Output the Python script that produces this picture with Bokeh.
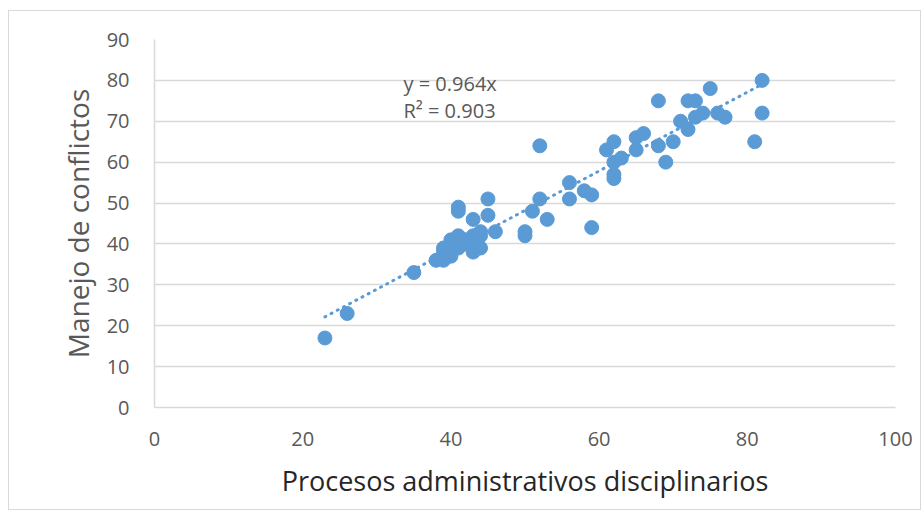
from bokeh.plotting import figure
from bokeh.models import Range1d, SingleIntervalTicker, Label, ColumnDataSource
from bokeh.embed import file_html
from bokeh.resources import INLINE

# ---- data ----
proc_x = [23, 26, 35, 38, 39,
          39, 39, 40, 40, 40, 40, 40, 41, 41, 41, 42, 42, 43, 43, 43, 44, 44, 44, 41,
          41, 41, 43, 45, 45, 46,
          50, 50, 51, 52, 52, 53,
          56, 56, 58, 59, 59,
          61, 62, 62, 62, 62, 63,
          65, 66, 65, 68, 68, 69, 70,
          71, 72, 73, 72, 73, 74, 75, 76, 77,
          81, 82, 82]
conf_y = [17, 23, 33, 36, 36,
          39, 38, 37, 38, 39, 40, 41, 40, 41, 42, 40, 41, 41, 42, 38, 39, 42, 43, 39,
          49, 48, 46, 51, 47, 43,
          43, 42, 48, 51, 64, 46,
          55, 51, 53, 52, 44,
          63, 65, 60, 57, 56, 61,
          66, 67, 63, 64, 75, 60, 65,
          70, 75, 75, 68, 71, 72, 78, 72, 71,
          65, 80, 72]
trend_slope = 0.964
r_squared = 0.903
x_ticks_interval = 20
y_ticks_interval = 10

x_title = "Procesos administrativos disciplinarios"
y_title = "Manejo de conflictos"

BLUE = "#5B9BD5"
GRID = "#D9D9D9"
TXT = "#595959"
FONT = "Open Sans"

p = figure(width=913, height=500, output_backend="svg", toolbar_location=None,
           x_range=Range1d(0, 100), y_range=Range1d(0, 90),
           min_border_left=145, min_border_right=27, min_border_top=28, min_border_bottom=104)
p.styles = {"border": "1px solid #D9D9D9", "margin-left": "8px", "margin-top": "10px"}
p.outline_line_color = None
p.background_fill_color = "white"

p.xgrid.grid_line_color = None
p.ygrid.grid_line_color = GRID
p.ygrid.grid_line_width = 1.5

p.xaxis.ticker = SingleIntervalTicker(interval=x_ticks_interval)
p.yaxis.ticker = SingleIntervalTicker(interval=y_ticks_interval)
for ax in (p.xaxis, p.yaxis):
    ax.major_tick_line_color = None
    ax.minor_tick_line_color = None
    ax.axis_line_color = GRID
    ax.axis_line_width = 1.5
    ax.major_label_text_font = FONT
    ax.major_label_text_font_size = "20px"
    ax.major_label_text_color = TXT
    ax.axis_label_text_font = FONT
    ax.axis_label_text_font_style = "normal"

p.xaxis.major_label_standoff = 18
p.yaxis.major_label_standoff = 19
p.xaxis.axis_label = x_title
p.xaxis.axis_label_text_font_size = "27px"
p.xaxis.axis_label_text_color = "#262626"
p.xaxis.axis_label_standoff = 13
p.yaxis.axis_label = y_title
p.yaxis.axis_label_text_font_size = "28px"
p.yaxis.axis_label_text_color = TXT
p.yaxis.axis_label_standoff = 7

# trendline (through origin) from min to max of x
x0, x1 = min(proc_x), max(proc_x)
trend = ColumnDataSource(dict(x=[x0, x1], y=[trend_slope * x0, trend_slope * x1]))
p.line("x", "y", source=trend, line_color=BLUE, line_width=3,
       line_dash="1 6", line_cap="round")

src = ColumnDataSource(dict(x=proc_x, y=conf_y))
p.scatter("x", "y", source=src, size=14, fill_color=BLUE, line_color=BLUE)

p.add_layout(Label(x=33.6, y=79.3, text=f"y = {trend_slope}x", text_baseline="middle",
                   text_font=FONT, text_font_size="20px", text_color=TXT))
p.add_layout(Label(x=33.6, y=72.6, text=f"R² = {r_squared}", text_baseline="middle",
                   text_font=FONT, text_font_size="20px", text_color=TXT))

open("out.html", "w").write(file_html(p, INLINE))
